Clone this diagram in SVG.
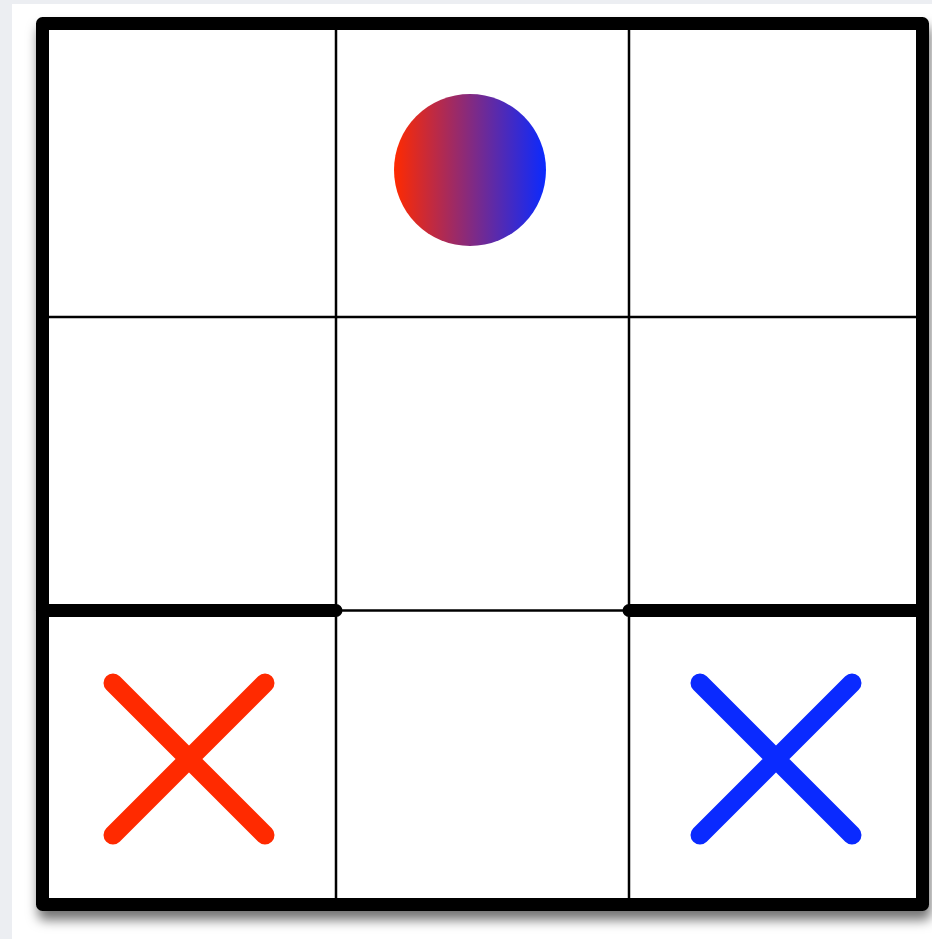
<svg xmlns="http://www.w3.org/2000/svg" width="932" height="939" viewBox="0 0 932 939">
  <defs>
    <linearGradient id="ballGrad" x1="0" y1="0" x2="1" y2="0">
      <stop offset="0" stop-color="#ff2a00"/>
      <stop offset="1" stop-color="#0a2aff"/>
    </linearGradient>
    <filter id="shadow" x="-10%" y="-10%" width="120%" height="120%">
      <feDropShadow dx="2" dy="9" stdDeviation="6" flood-color="#000" flood-opacity="0.55"/>
    </filter>
  </defs>
  <style>
    .grid { stroke: #000; stroke-width: 2.5; fill: none; }
    .wall { stroke: #000; stroke-width: 13; stroke-linecap: round; fill: none; }
    .mark { stroke-width: 19; stroke-linecap: round; fill: none; }
  </style>
  <rect x="0" y="0" width="932" height="939" fill="#eceef2"/>
  <rect x="12" y="4" width="920" height="935" fill="#ffffff"/>
  <g id="board">
    <rect x="42.5" y="23.5" width="880" height="881" fill="#ffffff" stroke="#000" stroke-width="13" stroke-linejoin="round" filter="url(#shadow)"/>
    <line class="grid" x1="336" y1="23.5" x2="336" y2="904.5"/>
    <line class="grid" x1="629" y1="23.5" x2="629" y2="904.5"/>
    <line class="grid" x1="42.5" y1="317" x2="922.5" y2="317"/>
    <line class="grid" x1="42.5" y1="610.5" x2="922.5" y2="610.5"/>
    <line class="wall" x1="42.5" y1="610.5" x2="336" y2="610.5"/>
    <line class="wall" x1="629" y1="610.5" x2="922.5" y2="610.5"/>
  </g>
  <g id="ball">
    <circle cx="470" cy="170" r="76" fill="url(#ballGrad)"/>
  </g>
  <g id="red-x">
    <path class="mark" stroke="#ff2a00" d="M113 683 L265 835 M265 683 L113 835"/>
  </g>
  <g id="blue-x">
    <path class="mark" stroke="#0a2aff" d="M700 683 L852 835 M852 683 L700 835"/>
  </g>
</svg>
